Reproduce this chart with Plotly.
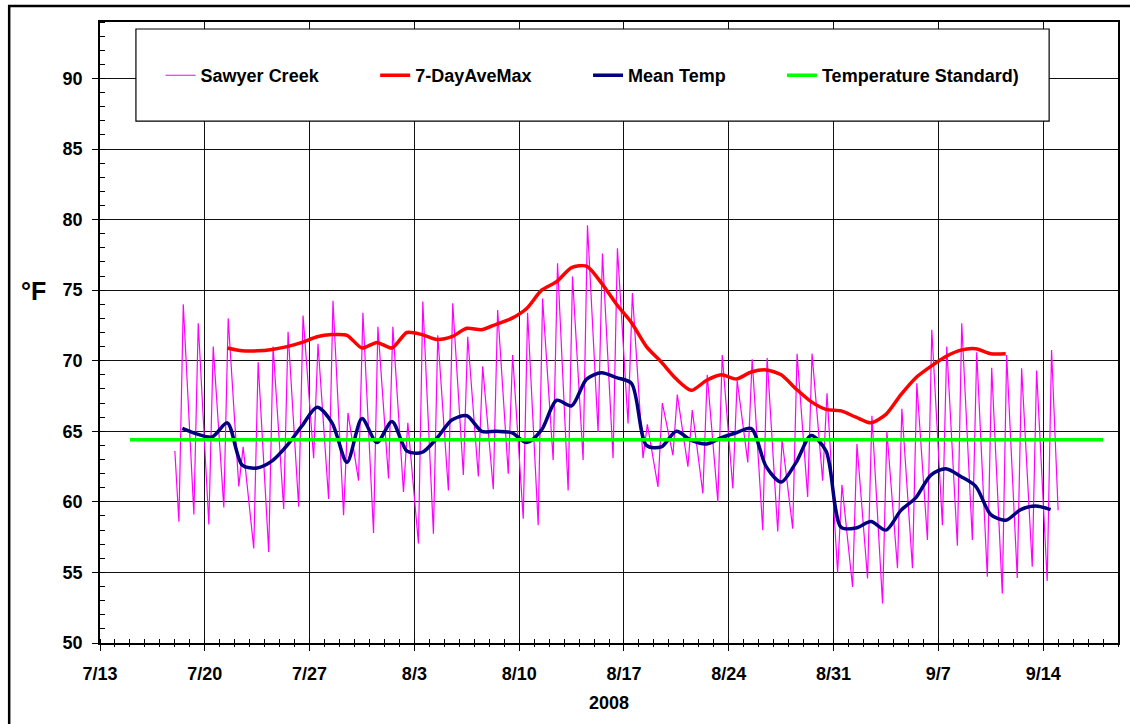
import plotly.graph_objects as go
import pandas as pd

# ---------------- data ----------------
creek_days = pd.date_range("2008-07-18", "2008-09-14", freq="D")  # 59 days
creek_first_value = 63.6   # 7/18 00:00
creek_last_value = 59.4    # 9/15 00:00
creek_daily_min = [58.6, 59.1, 58.4, 59.6, 61.1, 56.7, 56.45, 59.5, 59.65, 63.1,
                   60.2, 59.06, 61.5, 57.8, 61.65, 60.7, 57.05, 57.75, 60.8, 61.9,
                   61.8, 60.9, 62.0, 58.8, 58.35, 62.96, 60.8, 62.96, 64.96, 63.1,
                   65.56, 63.1, 61.06, 63.3, 62.5, 60.6, 60.0, 60.95, 62.8, 58.0,
                   57.9, 58.1, 60.35, 61.5, 55.0, 53.97, 54.57, 52.8, 55.3, 55.3,
                   57.3, 58.35, 56.9, 57.3, 54.7, 53.5, 54.6, 55.4, 54.4]
creek_daily_max = [74.0, 72.65, 71.0, 73.0, 63.9, 69.9, 71.0, 72.05, 73.2, 71.2,
                   74.25, 66.3, 73.4, 72.4, 72.4, 65.6, 74.2, 71.8, 74.07, 71.7,
                   69.6, 73.6, 70.4, 73.4, 74.4, 76.9, 75.96, 79.6, 77.6, 77.97,
                   74.8, 65.5, 67.0, 67.6, 66.5, 69.0, 70.4, 68.6, 70.1, 70.2,
                   64.4, 70.5, 70.5, 67.7, 61.2, 64.1, 66.1, 65.0, 66.6, 68.4,
                   72.2, 71.0, 72.65, 70.6, 69.5, 70.4, 69.46, 69.3, 70.76]

ave7_days = pd.date_range("2008-07-21", "2008-09-11", freq="D")  # 53 days
ave7_max = [70.9, 70.7, 70.7, 70.8, 71.0, 71.3, 71.7, 71.85, 71.8, 70.9,
            71.3, 70.9, 72.0, 71.85, 71.5, 71.7, 72.3, 72.2, 72.6, 73.0,
            73.7, 75.0, 75.6, 76.6, 76.7, 75.5, 74.0, 72.7, 71.0, 69.9,
            68.7, 67.9, 68.6, 69.0, 68.7, 69.2, 69.35, 69.0, 68.0, 67.1,
            66.55, 66.45, 66.0, 65.6, 66.2, 67.6, 68.8, 69.6, 70.3, 70.75,
            70.85, 70.5, 70.5]

mean_days = pd.date_range("2008-07-18", "2008-09-14", freq="D")  # 59 days
mean_temp = [65.2, 64.8, 64.6, 65.6, 62.6, 62.4, 62.9, 64.0, 65.4, 66.7,
             65.6, 62.8, 65.9, 64.2, 65.7, 63.6, 63.5, 64.5, 65.8, 66.1,
             65.0, 65.0, 64.9, 64.2, 65.1, 67.2, 66.8, 68.7, 69.15, 68.8,
             68.4, 64.0, 63.9, 65.0, 64.35, 64.1, 64.55, 64.9, 65.2, 62.5,
             61.4, 62.8, 64.7, 63.6, 58.2, 58.15, 58.6, 58.0, 59.4, 60.3,
             61.9, 62.35, 61.8, 61.1, 59.1, 58.7, 59.45, 59.7, 59.45]

standard_dates = ["2008-07-15", "2008-09-18"]
standard_value = 64.4

x_range = ["2008-07-13", "2008-09-19"]
x_tick_vals = ["2008-07-13", "2008-07-20", "2008-07-27", "2008-08-03", "2008-08-10",
               "2008-08-17", "2008-08-24", "2008-08-31", "2008-09-07", "2008-09-14"]
x_tick_text = ["7/13", "7/20", "7/27", "8/3", "8/10", "8/17", "8/24", "8/31", "9/7", "9/14"]
y_range = [50, 94]
y_tick_vals = [50, 55, 60, 65, 70, 75, 80, 85, 90]

# ---------------- build creek trace from daily extremes ----------------
creek_t = [pd.Timestamp("2008-07-18 00:00")]
creek_v = [creek_first_value]
for d, lo, hi in zip(creek_days, creek_daily_min, creek_daily_max):
    creek_t += [d + pd.Timedelta(hours=6.5), d + pd.Timedelta(hours=13.5)]
    creek_v += [lo, hi]
creek_t.append(pd.Timestamp("2008-09-15 00:00"))
creek_v.append(creek_last_value)

noon = pd.Timedelta(hours=12)
FONT = "Liberation Sans, Arial, sans-serif"
DAY = 86400000

fig = go.Figure()
fig.add_trace(go.Scatter(x=creek_t, y=creek_v, mode="lines", name="Sawyer Creek",
                         line=dict(color="#FF00FF", width=1.2), legend="legend"))
fig.add_trace(go.Scatter(x=ave7_days + noon, y=ave7_max, mode="lines", name="7-DayAveMax",
                         line=dict(color="#FF0000", width=3.5, shape="spline", smoothing=0.7),
                         legend="legend2"))
fig.add_trace(go.Scatter(x=mean_days + noon, y=mean_temp, mode="lines", name="Mean Temp",
                         line=dict(color="#000080", width=3.5, shape="spline", smoothing=0.8),
                         legend="legend3"))
fig.add_trace(go.Scatter(x=standard_dates, y=[standard_value] * len(standard_dates),
                         mode="lines", name="Temperature Standard)",
                         line=dict(color="#00FF00", width=3.5), legend="legend4",
                         xaxis="x2", yaxis="y"))

def px_x(px):
    return (px - 100) / 1020.0

def px_y(py):
    return (642.7 - py) / 620.7

leg_common = dict(orientation="h", yanchor="middle", xanchor="left", y=px_y(75.5),
                  bgcolor="rgba(0,0,0,0)", borderwidth=0,
                  font=dict(family=FONT, size=18, color="black", weight="bold"))

fig.update_layout(
    width=1130, height=724,
    margin=dict(l=100, r=10, t=22, b=81),
    paper_bgcolor="white", plot_bgcolor="white",
    font=dict(family=FONT, size=18, color="black", weight="bold"),
    showlegend=True,
    legend=dict(x=px_x(160.7), **leg_common),
    legend2=dict(x=px_x(375.7), **leg_common),
    legend3=dict(x=px_x(589), **leg_common),
    legend4=dict(x=px_x(783.3), **leg_common),
    xaxis=dict(type="date", range=x_range, tickmode="array", tickvals=x_tick_vals,
               ticktext=x_tick_text, showgrid=True, gridcolor="#111111", gridwidth=1,
               ticks="outside", ticklen=6, tickwidth=1.2, tickcolor="black",
               showline=True, linecolor="black", linewidth=1.5, mirror=True,
               zeroline=False, ticklabelstandoff=8,
               tickfont=dict(family=FONT, size=18, color="black", weight="bold"),
               minor=dict(tickmode="linear", tick0="2008-07-13", dtick=DAY,
                          ticks="inside", ticklen=4, tickwidth=1.2, tickcolor="black",
                          showgrid=False)),
    xaxis2=dict(type="date", range=x_range, overlaying="x", anchor="y", side="bottom",
                showgrid=False, showticklabels=False, showline=False, zeroline=False,
                ticks="", tickmode="array", tickvals=x_tick_vals,
                minor=dict(tickmode="linear", tick0="2008-07-13", dtick=DAY,
                           ticks="outside", ticklen=3, tickwidth=1.2, tickcolor="black",
                           showgrid=False)),
    yaxis=dict(range=y_range, tickmode="array", tickvals=y_tick_vals, showgrid=True,
               gridcolor="#111111", gridwidth=1, ticks="outside", ticklen=6, tickwidth=1.2,
               tickcolor="black", showline=True, linecolor="black", linewidth=1.5,
               mirror=True, zeroline=False, ticklabelstandoff=6,
               tickfont=dict(family=FONT, size=18, color="black", weight="bold"),
               minor=dict(tickmode="linear", tick0=50, dtick=1, ticks="inside",
                          ticklen=5, tickwidth=1.2, tickcolor="black", showgrid=False)),
    shapes=[
        dict(type="rect", xref="paper", yref="paper", layer="above",
             x0=px_x(136), x1=px_x(1051), y0=px_y(121), y1=px_y(29),
             fillcolor="white", line=dict(color="black", width=1.2)),
        dict(type="rect", xref="paper", yref="paper", layer="above",
             x0=px_x(9), x1=px_x(1145), y0=px_y(740), y1=px_y(6),
             fillcolor="rgba(0,0,0,0)", line=dict(color="black", width=2.5)),
    ],
    annotations=[
        dict(text="2008", xref="paper", yref="paper", x=0.5, y=px_y(703),
             xanchor="center", yanchor="middle", showarrow=False,
             font=dict(family=FONT, size=18, color="black", weight="bold")),
        dict(text="°F", xref="paper", yref="paper", x=px_x(33), y=px_y(291),
             xanchor="center", yanchor="middle", showarrow=False,
             font=dict(family=FONT, size=25, color="black", weight="bold")),
    ],
)

fig.write_html("out.html", config={"displayModeBar": False},
               post_script="document.body.style.margin='0px';")
